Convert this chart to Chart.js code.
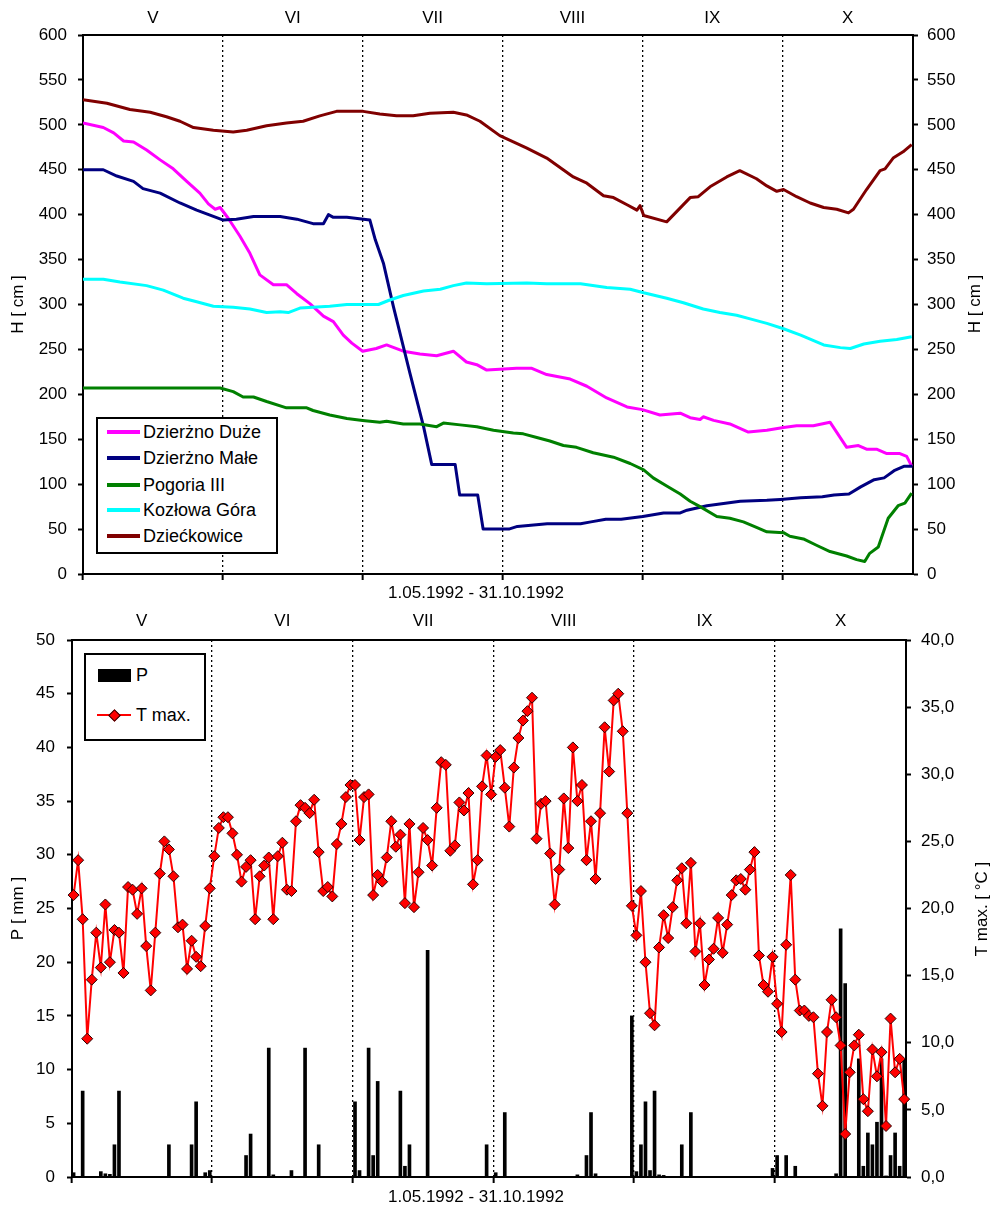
<!DOCTYPE html>
<html>
<head>
<meta charset="utf-8">
<script src="https://cdn.jsdelivr.net/npm/chart.js@4.4.1/dist/chart.umd.min.js"></script>
<style>
  body { margin: 0; background: #fff; font-family: "Liberation Sans", Arial, sans-serif; }
  #page { position: relative; width: 994px; height: 1210px; }
  #topBox { position: absolute; left: 0; top: 0; width: 994px; height: 604px; }
  #botBox { position: absolute; left: 0; top: 604px; width: 994px; height: 606px; }
  .legend { position: absolute; box-sizing: border-box; border: 2px solid #000; background: #fff; font-size: 18px; color: #000; }
  .legend .sw { position: absolute; }
  .legend .txt { position: absolute; line-height: 20px; white-space: nowrap; }
</style>
</head>
<body>
<div id="page">
  <div id="topBox"><canvas id="topChart" width="994" height="604"></canvas></div>
  <div id="botBox"><canvas id="botChart" width="994" height="606"></canvas></div>
  <div id="topLegend" class="legend" style="left:96px;top:417px;width:182px;height:137px;"></div>
  <div id="botLegend" class="legend" style="left:84px;top:653px;width:122px;height:88px;"></div>
</div>
<script>
// water levels H [cm], day 0 = 1.05.1992
const duzeDay = [0, 4.5, 6.8, 9, 11.2, 14.1, 17.1, 20, 23, 25.9, 27.8, 29.3, 30.4, 32.2, 34.8, 37, 39.2, 42.2, 45.1, 47.4, 50.3, 53.3, 55.5, 57.7, 59.6, 62, 65, 67.3, 71, 74.7, 78.4, 82.1, 85, 87.3, 89.5, 92.4, 96.1, 99.5, 102.8, 108, 111.7, 116.1, 120.6, 124, 127.9, 132.4, 134.6, 136.8, 137.5, 139.8, 143.4, 147.5, 151.6, 155.3, 158.2, 161.9, 165.6, 169.3, 171.9, 173.7, 175.9, 178.2, 181.1, 182.6, 183.7];
const duzeH = [502, 497, 491, 482, 481, 472, 461, 451, 437, 424, 412, 406, 408, 396, 376, 357, 333, 322, 322, 312, 301, 287, 281, 266, 257, 248, 251, 255, 248, 245, 243, 248, 236, 233, 227, 228, 229, 229, 222, 217, 209, 196, 186, 183, 177, 179, 174, 172, 175, 171, 167, 158, 160, 163, 165, 165, 169, 141, 143, 139, 139, 134, 134, 131, 120];

const maleDay = [0, 4.5, 7.5, 11.2, 13.3, 17.1, 21.5, 25.2, 28.9, 31.1, 34, 37.8, 43.7, 47.4, 51, 53.3, 54.4, 55.5, 58.5, 62.2, 63.6, 64.8, 66.6, 68.8, 72.5, 75.5, 77.3, 82.5, 83.5, 87.5, 88.7, 94.4, 96.3, 102.9, 110.3, 112.6, 115.9, 119.3, 124.1, 128.7, 132.4, 133.9, 138.3, 145.7, 151.6, 154.6, 159.1, 163.9, 166.5, 169.8, 172.4, 175.4, 177.6, 179.8, 182.1, 183.9];
const maleH = [450, 450, 443, 437, 429, 424, 413, 405, 398, 394, 395, 398, 398, 395, 390, 390, 400, 397, 397, 395, 394, 372, 346, 298, 223, 164, 122, 122, 88, 88, 50, 50, 53, 56, 56, 58, 61, 61, 64, 68, 68, 71, 76, 81, 82, 83, 85, 86, 88, 89, 97, 105, 107, 115, 120, 120];

const pogoriaDay = [0, 30.4, 33.3, 35.5, 37.8, 40.7, 45.1, 49.6, 51, 54.7, 58.5, 62, 65.8, 67.3, 71, 74.7, 78.4, 79.9, 83.6, 87.3, 91, 95.4, 97.6, 100.6, 103.5, 106.5, 109.4, 113.1, 117.6, 121.3, 124.3, 126.4, 129.4, 132.4, 134.6, 136.8, 140.5, 143.4, 146.4, 149.3, 151.6, 155.3, 156.7, 159.7, 162.6, 165.6, 169.3, 171.5, 173.3, 174.4, 176.3, 178.5, 180.7, 182.2, 183.7];
const pogoriaH = [207, 207, 203, 197, 197, 192, 185, 185, 182, 177, 173, 171, 169, 170, 167, 167, 164, 168, 166, 164, 160, 157, 156, 152, 148, 143, 141, 135, 130, 123, 116, 107, 98, 89, 81, 75, 64, 62, 58, 52, 47, 46, 42, 39, 32, 25, 20, 16, 14, 23, 30, 62, 76, 79, 90];

const kozlowaDay = [0, 4.5, 8.2, 14.1, 17.8, 22.2, 25.2, 28.9, 33.3, 37, 40.7, 43.7, 45.5, 48.1, 54.7, 58.5, 62, 65.5, 68, 71, 75.5, 79.2, 82.1, 85, 89.5, 98.4, 102.8, 110.3, 116.1, 121.3, 124.3, 129.4, 133.1, 137.5, 141.2, 144.9, 147.9, 151.6, 155.3, 159.1, 164.2, 167.9, 170.1, 173.1, 176.7, 180.4, 183.7];
const kozlowaH = [328, 328, 325, 321, 316, 307, 303, 298, 297, 295, 291, 292, 291, 296, 298, 300, 300, 300, 305, 310, 315, 317, 321, 324, 323, 324, 323, 323, 319, 317, 313, 307, 302, 295, 291, 288, 284, 279, 273, 266, 255, 252, 251, 256, 259, 261, 264];

const dzieckDay = [0, 5.3, 10.4, 14.9, 18.5, 21.5, 24.5, 28.9, 33.3, 36.3, 40.7, 45.1, 48.8, 52.5, 56.2, 62.1, 65.8, 69.5, 73.2, 76.9, 82.1, 85, 88, 92.4, 95.4, 98.4, 102.8, 108.7, 111.7, 115.4, 117.6, 120.6, 122.8, 123.5, 124.3, 129.4, 134.6, 136.4, 139, 142.7, 145.6, 149.3, 151.6, 153.8, 155.3, 158.2, 161.2, 164.2, 167.1, 169.7, 170.8, 173.7, 176.7, 177.8, 179.6, 181.8, 183.7];
const dzieckH = [528, 524, 517, 514, 509, 504, 497, 494, 492, 494, 499, 502, 504, 510, 515, 515, 512, 510, 510, 513, 514, 511, 504, 488, 481, 474, 463, 442, 435, 421, 419, 411, 405, 410, 399, 392, 419, 420, 431, 442, 449, 440, 432, 426, 428, 420, 413, 408, 406, 402, 406, 428, 449, 451, 463, 470, 478];

// daily max temperature [°C]
const tMay = [21.0, 23.6, 19.2, 10.3, 14.7, 18.2, 15.6, 20.3, 16.0, 18.4, 18.2, 15.2, 21.6, 21.4, 19.6, 21.5, 17.2, 13.9, 18.2, 22.6, 25.0, 24.4, 22.4, 18.6, 18.8, 15.5, 17.6, 16.4, 15.7, 18.7, 21.5];
const tJun = [23.9, 26.0, 26.8, 26.8, 25.6, 24.0, 22.0, 23.1, 23.6, 19.2, 22.4, 23.2, 23.8, 19.2, 23.9, 24.9, 21.4, 21.3, 26.5, 27.7, 27.5, 27.1, 28.1, 24.2, 21.3, 21.6, 20.9, 24.8, 26.3, 28.3];
const tJul = [29.2, 29.2, 25.1, 28.3, 28.5, 21.0, 22.5, 22.0, 23.8, 26.5, 24.6, 25.5, 20.4, 26.3, 20.1, 22.7, 26.0, 25.1, 23.2, 27.5, 30.9, 30.7, 24.3, 24.7, 27.9, 27.3, 28.6, 21.8, 23.6, 29.1, 31.4];
const tAug = [28.5, 31.3, 31.8, 29.0, 26.1, 30.5, 32.7, 34.0, 34.7, 35.7, 25.2, 27.8, 28.0, 24.1, 20.3, 22.9, 28.2, 24.5, 32.0, 28.0, 29.2, 23.6, 26.5, 22.2, 27.1, 33.5, 30.2, 35.5, 36.0, 33.2, 27.1];
const tSep = [20.2, 18.0, 21.3, 16.0, 12.2, 11.3, 17.1, 19.5, 17.8, 20.1, 22.1, 23.0, 18.9, 23.4, 16.8, 18.9, 14.3, 16.2, 17.0, 19.3, 16.7, 18.8, 21.0, 22.1, 22.2, 21.4, 22.9, 24.2, 16.5, 14.3];
const tOct = [13.8, 16.4, 12.9, 10.8, 17.3, 22.5, 14.7, 12.4, 12.4, 12.0, 11.9, 7.7, 5.3, 10.8, 13.2, 11.9, 9.8, 3.2, 7.8, 9.8, 10.6, 5.8, 4.9, 9.5, 7.5, 9.3, 3.8, 11.8, 7.8, 8.8, 5.8];

// daily precipitation P [mm]
const pMay = [0.4, 0, 8.0, 0, 0, 0, 0.5, 0.3, 0.25, 3.0, 8.0, 0, 0, 0, 0, 0, 0, 0, 0, 0, 0, 3.0, 0, 0, 0, 0, 3.0, 7.0, 0, 0.4, 0.6];
const pJun = [0, 0, 0, 0, 0, 0, 0, 2.0, 4.0, 0, 0, 0, 12.0, 0.2, 0, 0, 0, 0.6, 0, 0, 12.0, 0, 0, 3.0, 0, 0, 0, 0, 0, 0];
const pJul = [0, 7.0, 0.6, 0, 12.0, 2.0, 8.9, 0, 0, 0, 0, 8.0, 1.0, 3.0, 0, 0, 0, 21.1, 0, 0, 0, 0, 0, 0, 0, 0, 0, 0, 0, 0, 3.0];
const pAug = [0, 0.4, 0, 6.0, 0, 0, 0, 0, 0, 0, 0, 0, 0, 0, 0, 0, 0, 0, 0, 0.2, 0, 2.0, 6.0, 0.3, 0, 0, 0, 0, 0, 0, 0];
const pSep = [15.0, 0.5, 3.0, 7.0, 0.6, 8.0, 0.2, 0.15, 0, 0, 0, 3.0, 0, 6.0, 0, 0, 0, 0, 0, 0, 0, 0, 0, 0, 0, 0, 0, 0, 0, 0];
const pOct = [0, 0.8, 2.0, 0, 2.0, 0, 1.0, 0, 0, 0, 0, 0, 0, 0, 0, 0.3, 23.1, 18.0, 0, 0, 11.0, 1.0, 4.1, 3.0, 5.1, 11.0, 0.1, 2.0, 4.1, 1.0, 10.9];

const monthNames = ['V', 'VI', 'VII', 'VIII', 'IX', 'X'];
const topMonthMid = [15.5, 46.5, 77.5, 108.5, 139.5, 169.5];
const topMonthEdge = [0, 31, 62, 93, 124, 155];
const botMonthMid = [15, 46, 77, 108, 139, 169];
const botMonthEdge = [-0.35, 30.5, 61.5, 92.5, 123.5, 154.5];
const periodText = '1.05.1992 - 31.10.1992';

const tMax = [].concat(tMay, tJun, tJul, tAug, tSep, tOct);
const precip = [].concat(pMay, pJun, pJul, pAug, pSep, pOct);

const FONT_FAMILY = '"Liberation Sans", Arial, sans-serif';
const FONT = { family: FONT_FAMILY, size: 17 };

function pts(days, vals) {
    return days.map((d, i) => ({ x: d, y: vals[i] }));
}

// caption under x axis + right axis title (rotated like the left one)
const extraText = {
    id: 'extraText',
    afterDraw(chart, args, opts) {
        const ctx = chart.ctx;
        ctx.save();
        ctx.font = '17px ' + FONT_FAMILY;
        ctx.fillStyle = '#000';
        ctx.textAlign = 'center';
        ctx.textBaseline = 'middle';
        ctx.fillText(opts.caption, opts.captionX, opts.captionY);
        ctx.translate(opts.rightX, opts.rightY);
        ctx.rotate(-Math.PI / 2);
        ctx.fillText(opts.rightTitle, 0, 0);
        ctx.restore();
    }
};

function monthAxis(mids, min, max, height, pad) {
    return {
        type: 'linear', position: 'top', min: min, max: max, offset: false,
        afterBuildTicks: s => { s.ticks = mids.map(v => ({ value: v })); },
        afterFit: s => { s.height = height; },
        ticks: { callback: (v, i) => monthNames[i], font: FONT, color: '#000', padding: pad, maxRotation: 0, autoSkip: false },
        grid: { display: false, drawTicks: false, offset: false },
        border: { display: true, color: '#000', width: 2 }
    };
}

function sepAxis(edges, min, max, height) {
    return {
        type: 'linear', position: 'bottom', min: min, max: max, offset: false,
        afterBuildTicks: s => { s.ticks = edges.map(v => ({ value: v })); },
        afterFit: s => { s.height = height; },
        ticks: { display: false },
        grid: {
            offset: false,
            color: c => (c.tick && c.tick.value === edges[0]) ? 'rgba(0,0,0,0)' : '#000',
            lineWidth: 1.3, tickColor: '#000', tickWidth: 2, tickLength: 6
        },
        border: { display: true, color: '#000', width: 2, dash: [2, 3] }
    };
}

function valueAxis(pos, min, max, step, width, pad, fmt, title) {
    return {
        type: 'linear', position: pos, min: min, max: max,
        afterFit: s => { s.width = width; },
        ticks: { stepSize: step, font: FONT, color: '#000', padding: pad, callback: fmt },
        grid: { drawOnChartArea: false, tickColor: '#000', tickWidth: 2, tickLength: 5 },
        border: { display: true, color: '#000', width: 2 },
        title: title ? { display: true, text: title, font: FONT, color: '#000', padding: { top: 8, bottom: 0 } } : { display: false }
    };
}

// ---- upper chart: water levels ----
const lineDefaults = { borderWidth: 3, pointRadius: 0, borderJoinStyle: 'round', tension: 0 };
new Chart(document.getElementById('topChart'), {
    type: 'line',
    data: {
        datasets: [
            Object.assign({ label: 'Dziećkowice', data: pts(dzieckDay, dzieckH), borderColor: '#800000' }, lineDefaults),
            Object.assign({ label: 'Kozłowa Góra', data: pts(kozlowaDay, kozlowaH), borderColor: '#00ffff' }, lineDefaults),
            Object.assign({ label: 'Pogoria III', data: pts(pogoriaDay, pogoriaH), borderColor: '#008000' }, lineDefaults),
            Object.assign({ label: 'Dzierżno Małe', data: pts(maleDay, maleH), borderColor: '#000080' }, lineDefaults),
            Object.assign({ label: 'Dzierżno Duże', data: pts(duzeDay, duzeH), borderColor: '#ff00ff' }, lineDefaults)
        ]
    },
    options: {
        responsive: false,
        animation: false,
        layout: { padding: 0 },
        plugins: {
            legend: { display: false },
            tooltip: { enabled: false },
            extraText: { caption: periodText, captionX: 476, captionY: 593, rightTitle: 'H [ cm ]', rightX: 975, rightY: 304 }
        },
        scales: {
            x: sepAxis(topMonthEdge, 0, 184, 30),
            xTop: monthAxis(topMonthMid, 0, 184, 35, 6.5),
            y: valueAxis('left', 0, 600, 50, 83, 11, v => v, 'H [ cm ]'),
            y2: valueAxis('right', 0, 600, 50, 81, 9, v => v, null)
        }
    },
    plugins: [extraText]
});

// ---- lower chart: precipitation + max temperature ----
new Chart(document.getElementById('botChart'), {
    type: 'bar',
    data: {
        datasets: [
            {
                type: 'line', label: 'T max.', yAxisID: 'y2', order: 0, clip: false,
                data: tMax.map((v, i) => ({ x: i, y: v })),
                borderColor: '#ff0000', borderWidth: 2, tension: 0,
                pointStyle: 'rectRot', pointRadius: 5.5,
                pointBackgroundColor: '#ff0000', pointBorderColor: '#2b0000', pointBorderWidth: 1
            },
            {
                type: 'bar', label: 'P', yAxisID: 'y', order: 1,
                data: precip.map((v, i) => ({ x: i, y: v })),
                backgroundColor: '#000', barThickness: 3
            }
        ]
    },
    options: {
        responsive: false,
        animation: false,
        layout: { padding: 0 },
        plugins: {
            legend: { display: false },
            tooltip: { enabled: false },
            extraText: { caption: periodText, captionX: 476, captionY: 593, rightTitle: 'T max. [ °C ]', rightX: 982, rightY: 305 }
        },
        scales: {
            x: sepAxis(botMonthEdge, -0.35, 183.4, 33),
            xTop: monthAxis(botMonthMid, -0.35, 183.4, 36, 8),
            y: valueAxis('left', 0, 50, 5, 72, 12, v => v, 'P [ mm ]'),
            y2: valueAxis('right', 0, 40, 5, 88, 10, v => v.toFixed(1).replace('.', ','), null)
        }
    },
    plugins: [extraText]
});

// ---- legends (boxed, as in the original) ----
const topLegendItems = [
    ['Dzierżno Duże', '#ff00ff'],
    ['Dzierżno Małe', '#000080'],
    ['Pogoria III', '#008000'],
    ['Kozłowa Góra', '#00ffff'],
    ['Dziećkowice', '#800000']
];
const topLegendRows = [12.7, 38.7, 65.7, 91, 116.7];
const topLeg = document.getElementById('topLegend');
topLegendItems.forEach((it, i) => {
    const cy = topLegendRows[i];
    topLeg.insertAdjacentHTML('beforeend',
        '<div class="sw" style="left:9px;top:' + (cy - 2) + 'px;width:33px;height:4px;background:' + it[1] + '"></div>' +
        '<div class="txt" style="left:45px;top:' + (cy - 10) + 'px">' + it[0] + '</div>');
});
const botLeg = document.getElementById('botLegend');
botLeg.innerHTML =
    '<div class="sw" style="left:12px;top:13.5px;width:33px;height:13px;background:#000"></div>' +
    '<div class="txt" style="left:50px;top:10px">P</div>' +
    '<div class="sw" style="left:11px;top:59px;width:34px;height:2px;background:#ff0000"></div>' +
    '<div class="sw" style="left:24px;top:55.5px;width:7px;height:7px;background:#ff0000;border:1px solid #2b0000;transform:rotate(45deg)"></div>' +
    '<div class="txt" style="left:50px;top:50px">T max.</div>';
</script>
</body>
</html>
